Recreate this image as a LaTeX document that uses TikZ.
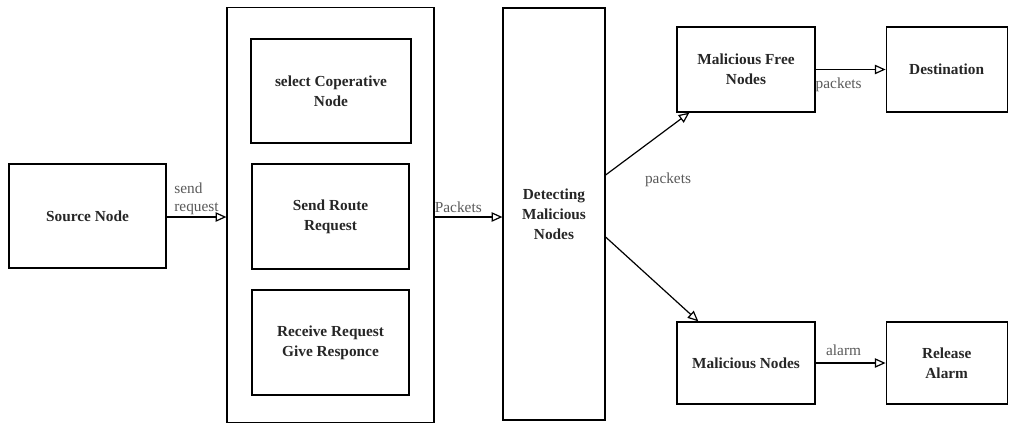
\documentclass[tikz,border=0pt]{standalone}
\usepackage{fontspec}
\setmainfont{Liberation Serif}
\usetikzlibrary{positioning}
\usetikzlibrary{calc}
\usetikzlibrary{arrows.meta}

\begin{document}
\begin{tikzpicture}[x=0.75pt,y=-0.75pt,>={Triangle[open,length=8pt,width=7pt]},
    box/.style={draw,line width=0.9pt,rectangle,align=center,text=black!85,
        font=\fontsize{11.5}{15}\selectfont\bfseries,inner sep=0pt},
    lbl/.style={text=black!65,font=\fontsize{11.5}{13.5}\selectfont,align=left},
    every path/.style={line width=0.9pt}]
    \useasboundingbox (0,0) rectangle (1015,426);

    % the source and the cooperative route box
    \node[box,minimum width=157*0.75pt,minimum height=104*0.75pt] at (87.5,216) (source) {Source Node};
    \node[box,minimum width=207*0.75pt,minimum height=415*0.75pt] at (330.5,215) (route) {};
    \node[box,minimum width=160*0.75pt,minimum height=104*0.75pt] at (331,91) (select) {select Coperative\\Node};
    \node[box,minimum width=157*0.75pt,minimum height=105*0.75pt] at (330.5,216.5) (sendreq) {Send Route\\Request};
    \node[box,minimum width=157*0.75pt,minimum height=105*0.75pt] at (330.5,342.5) (receive) {Receive Request\\Give Responce};

    \node[box,minimum width=102*0.75pt,minimum height=412*0.75pt] at (554,214) (detect) {Detecting\\Malicious\\Nodes};

    % the two outcomes
    \node[box,minimum width=138*0.75pt,minimum height=85*0.75pt] at (746,69.5) (free) {Malicious Free\\Nodes};
    \node[box,minimum width=121*0.75pt,minimum height=85*0.75pt,right=70*0.75pt of free] (dest) {Destination};
    \node[box,minimum width=138*0.75pt,minimum height=82*0.75pt] at (746,363) (mal) {Malicious Nodes};
    \node[box,minimum width=121*0.75pt,minimum height=82*0.75pt,right=70*0.75pt of mal] (release) {Release\\Alarm};

    % the arrows and labels
    \draw [->](source.east |- 0,217) to node[lbl,above,inner sep=1pt] {send\\request} (route.west |- 0,217);
    \draw [->](route.east |- 0,217) to node[lbl,above,pos=0.35,inner sep=3pt] {Packets} (detect.west |- 0,217);
    \draw [->]($(detect.east)+(0,-39)$) to ($(free.south west)+(13,0)$);
    \node[lbl,anchor=north west] at (640,168) (pk1) {packets};
    \draw [->]($(detect.east)+(0,23)$) to ($(mal.north west)+(22,0)$);
    \draw [->](free) to node[lbl,below,pos=0.33,inner sep=6pt] {packets} (dest);
    \draw [->](mal) to node[lbl,above,pos=0.4,inner sep=5pt] {alarm} (release);
\end{tikzpicture}
\end{document}
